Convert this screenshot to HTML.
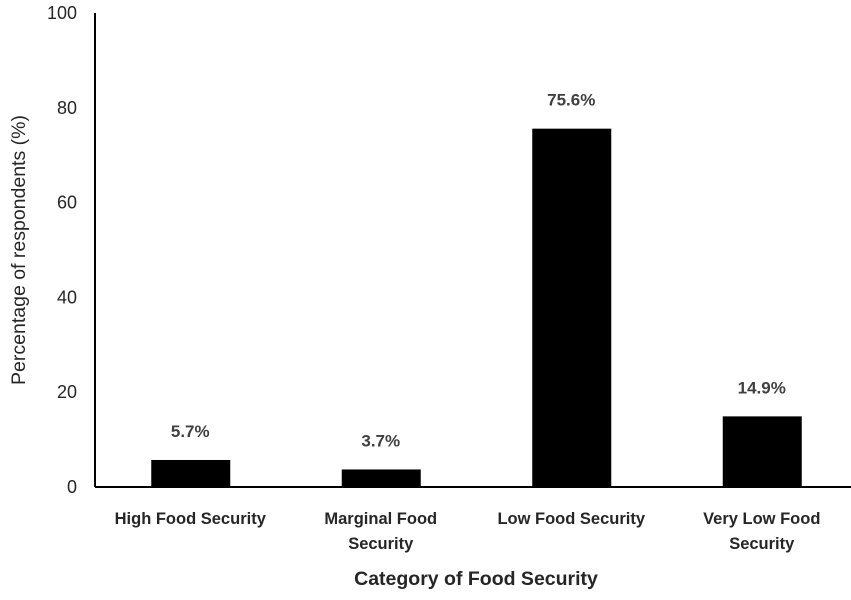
<!DOCTYPE html>
<html><head><meta charset="utf-8"><style>
body{margin:0;background:#fff;}
svg{display:block;font-family:"Liberation Sans",sans-serif;}
</style></head><body>
<svg width="851" height="600">
<g id="g"></g>
</svg>
<script>
const categories=[["High Food Security"],["Marginal Food","Security"],["Low Food Security"],["Very Low Food","Security"]];
const values=[5.7,3.7,75.6,14.9];
const valueLabels=["5.7%","3.7%","75.6%","14.9%"];
const yTicks=[0,20,40,60,80,100];
const NS="http://www.w3.org/2000/svg";
const g=document.getElementById('g');
const x0=95,x1=857,y0=487,yTop=13;
const y=v=>y0-(v/100)*(y0-yTop);
const bw=(x1-x0)/categories.length;
const xc=i=>x0+bw*(i+0.5);
function el(t,a,txt){const e=document.createElementNS(NS,t);for(const k in a)e.setAttribute(k,a[k]);if(txt!=null)e.textContent=txt;g.appendChild(e);return e;}
yTicks.forEach(t=>{
 const e=el('text',{x:77,y:y(t)+6,'text-anchor':'end','font-size':18,fill:'#262626'},t);
 
 
});
values.forEach((v,i)=>{
 const r=el('rect',{x:xc(i)-39,y:y(v),width:79,height:y0-y(v),fill:'#000'});
 
 
 const l=el('text',{x:xc(i),y:y(v)-23,'text-anchor':'middle','font-size':17,'font-weight':'bold',fill:'#404040'},valueLabels[i]);
 
 
 categories[i].forEach((s,j)=>{
  const c=el('text',{x:xc(i),y:524+j*25,'text-anchor':'middle','font-size':16.5,'font-weight':'bold',fill:'#262626'},s);
  
  
 });
});
const ya=el('line',{x1:x0,y1:yTop,x2:x0,y2:y0,stroke:'#000','stroke-width':2});


const xa=el('line',{x1:x0,y1:y0,x2:x1,y2:y0,stroke:'#000','stroke-width':2});


const yt=el('text',{x:0,y:0,transform:'translate(25,250) rotate(-90)','text-anchor':'middle','font-size':19.5,fill:'#262626'},'Percentage of respondents (%)');


const xt=el('text',{x:476,y:585,'text-anchor':'middle','font-size':19.5,'font-weight':'bold',fill:'#262626'},'Category of Food Security');


</script>
</body></html>
